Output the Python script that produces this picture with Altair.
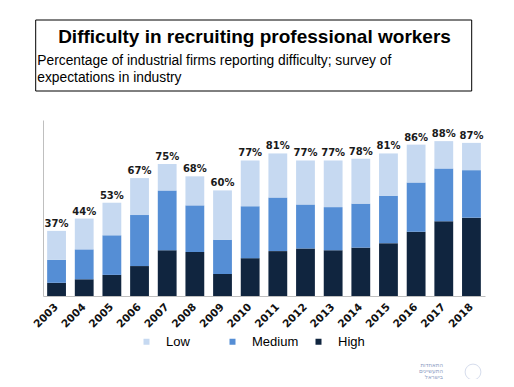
import altair as alt
import pandas as pd

years = ["2003", "2004", "2005", "2006", "2007", "2008", "2009", "2010",
         "2011", "2012", "2013", "2014", "2015", "2016", "2017", "2018"]
high = [7.5, 9.5, 12, 17, 26, 25, 12.5, 21.5, 25.5, 27, 26, 27.5, 30, 36.5, 42.5, 44.5]
medium = [13, 17, 22.5, 29, 34, 26.5, 19.5, 29.5, 30.5, 25, 24.5, 25, 27, 28, 30, 27]
low = [16.5, 17.5, 18.5, 21, 15, 16.5, 28, 26, 25, 25, 26.5, 25.5, 24, 21.5, 15.5, 15.5]
totals = [37, 44, 53, 67, 75, 68, 60, 77, 81, 77, 77, 78, 81, 86, 88, 87]
levels = ["Low", "Medium", "High"]
colors = ["#C6D9F1", "#558ED5", "#10253F"]

title_text = "Difficulty in recruiting professional workers"
subtitle_text = "Percentage of industrial firms reporting difficulty; survey of\nexpectations in industry"
logo_text = "התאחדות\nהתעשיינים\nבישראל"

rows = []
for i, y in enumerate(years):
    rows.append({"year": y, "level": "High", "value": high[i], "ord": 0})
    rows.append({"year": y, "level": "Medium", "value": medium[i], "ord": 1})
    rows.append({"year": y, "level": "Low", "value": low[i], "ord": 2})
df = pd.DataFrame(rows)
tot = pd.DataFrame({"year": years, "total": totals,
                    "label": [f"{t}%" for t in totals]})

xaxis = alt.Axis(labelAngle=-45, labelAlign="right", labelBaseline="middle",
                 labelFont="DejaVu Sans", labelFontWeight="bold", labelFontSize=10.5,
                 labelColor="#111111", ticks=False, labelPadding=9,
                 domainColor="#BFBFBF", domainWidth=1)
yaxis = alt.Axis(labels=False, ticks=False, grid=False,
                 domainColor="#BFBFBF", domainWidth=1)
xscale = alt.Scale(paddingInner=0.32, paddingOuter=0.15)
yscale = alt.Scale(domain=[0, 100], nice=False)

bars = alt.Chart(df).mark_bar().encode(
    x=alt.X("year:N", sort=years, title=None, scale=xscale, axis=xaxis),
    y=alt.Y("value:Q", stack="zero", title=None, scale=yscale, axis=yaxis),
    color=alt.Color("level:N", scale=alt.Scale(domain=levels, range=colors),
                    legend=alt.Legend(title=None, orient="none", direction="horizontal",
                                      legendX=97, legendY=215, gridAlign="all",
                                      symbolType="square", symbolSize=36,
                                      symbolStrokeWidth=0, labelFont="Liberation Sans",
                                      labelFontSize=13, labelColor="#000000",
                                      labelOffset=13, columnPadding=13)),
    order=alt.Order("ord:Q", sort="ascending"),
)

labels = alt.Chart(tot).mark_text(
    dy=-4, baseline="alphabetic", font="DejaVu Sans", fontWeight="bold",
    fontSize=10, color="#1A1A1A"
).encode(x=alt.X("year:N", sort=years, title=None, scale=xscale, axis=xaxis),
         y=alt.Y("total:Q", title=None, scale=yscale, axis=yaxis),
         text="label:N")

one = pd.DataFrame({"a": [0]})
box = alt.Chart(one).mark_rect(fill="white", stroke="black", strokeWidth=1).encode(
    x=alt.value(-7.3), x2=alt.value(428.7), y=alt.value(-100), y2=alt.value(-29))
title = alt.Chart(one).mark_text(
    font="Liberation Sans", fontWeight="bold", fontSize=19, color="black",
    align="center", baseline="alphabetic").encode(
    x=alt.value(211.5), y=alt.value(-77), text=alt.value(title_text))
subtitle = alt.Chart(one).mark_text(
    font="Liberation Sans", fontSize=13.8, color="black", align="left",
    baseline="alphabetic", lineBreak="\n", lineHeight=17).encode(
    x=alt.value(-5.7), y=alt.value(-55.5), text=alt.value(subtitle_text))
logo = alt.Chart(one).mark_text(
    font="DejaVu Sans", fontSize=5.5, color="#8A9AC2", align="right",
    baseline="middle", lineBreak="\n", lineHeight=6).encode(
    x=alt.value(400), y=alt.value(245), text=alt.value(logo_text))
ring = alt.Chart(one).mark_point(shape="circle", filled=False, stroke="#C5CFE6",
                                 strokeWidth=1, size=250).encode(
    x=alt.value(430), y=alt.value(252))

chart = alt.layer(box, title, subtitle, bars, labels, logo, ring).properties(
    width=442, height=176,
    autosize=alt.AutoSizeParams(type="none"),
    padding={"left": 35, "top": 112, "right": 21, "bottom": 83},
).configure(background="white").configure_view(strokeWidth=0)

chart.save("out.html", embed_options={"renderer": "svg", "actions": False})
